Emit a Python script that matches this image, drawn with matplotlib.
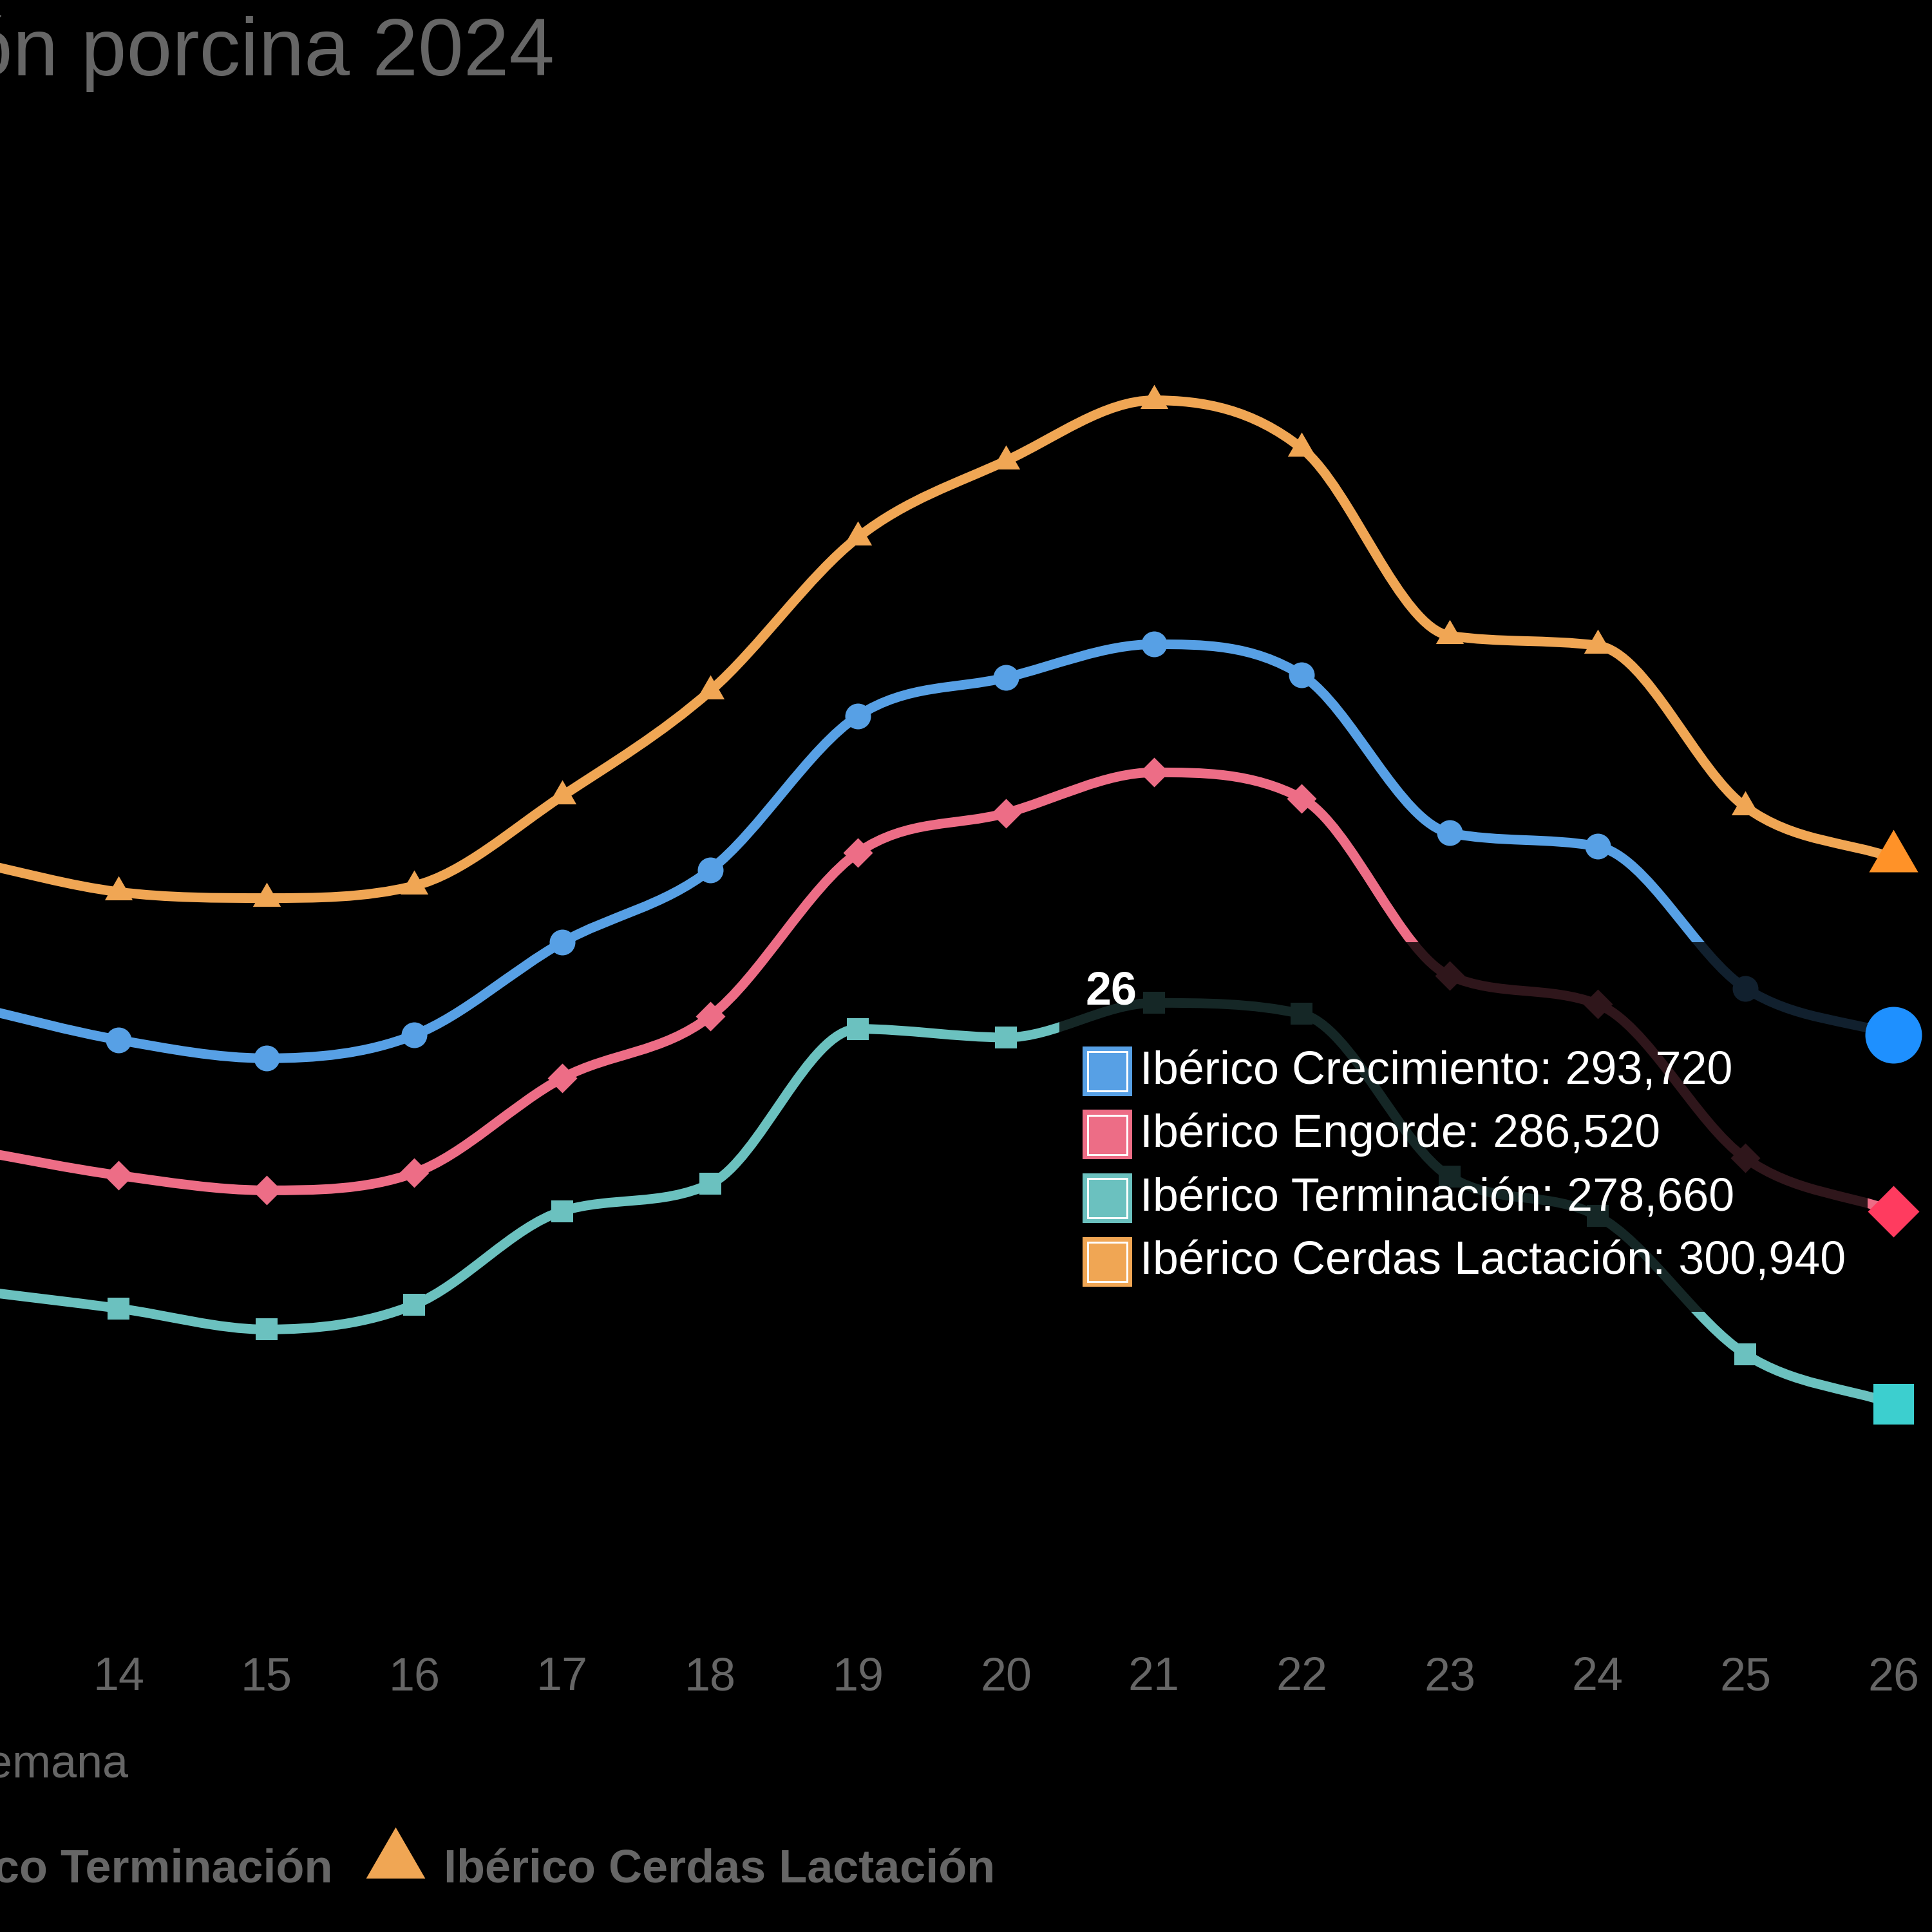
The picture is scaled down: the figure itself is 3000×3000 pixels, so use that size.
import numpy as np
import matplotlib
matplotlib.use('Agg')
import matplotlib.pyplot as plt
from matplotlib.path import Path
from matplotlib.patches import PathPatch, Rectangle
from matplotlib import transforms

# data (weeks 13..26, week 13 is just off the left edge)
weeks = [13, 14, 15, 16, 17, 18, 19, 20, 21, 22, 23, 24, 25, 26]
crecimiento = [294890, 293510, 292760, 293710, 297490, 300450, 306740, 308300, 309660, 308400, 301960, 301410, 295620, 293720]
engorde = [289030, 287980, 287370, 288080, 291950, 294470, 301160, 302770, 304430, 303370, 296130, 294970, 288680, 286520]
terminacion = [283300, 282550, 281690, 282700, 286520, 287630, 293960, 293610, 295020, 294570, 287930, 286320, 280680, 278660]
lactacion = [300800, 299550, 299300, 299800, 303470, 307750, 314030, 317150, 319620, 317660, 310010, 309610, 303020, 300940]

series_names = ['Ibérico Crecimiento', 'Ibérico Engorde', 'Ibérico Terminación', 'Ibérico Cerdas Lactación']
series_vals = [crecimiento, engorde, terminacion, lactacion]
line_cols = ['#57A0E5', '#ED6D86', '#6BC1BF', '#F0A654']
hover_cols = ['#1E90FF', '#FF3B5F', '#3CCFCF', '#FF9228']

hover_week = 26
title = 'Producción porcina 2024'
xlabel = 'Semana'

plt.rcParams['font.family'] = ['Liberation Sans', 'DejaVu Sans']

W = 3000
PX = 72.0 / 300  # pt per pixel
grey = '#666666'
fs = 72 * PX

# marker shapes (chart.js style)
tri = [(0, 1), (-0.866, -0.5), (0.866, -0.5)]
dia = [(0, 1), (1, 0), (0, -1), (-1, 0)]
sq = [(-1, -1), (1, -1), (1, 1), (-1, 1)]
markers = ['o', dia, sq, tri]
small_ms = [40, 46, 34, 50]
big_ms = [88, 80, 63, 88]
legend_ms = [80, 80, 70, 106]

fig = plt.figure(figsize=(10, 10), dpi=300, facecolor='black')
ax = fig.add_axes([0, 0, 1, 1])
ax.set_facecolor('black')
ax.set_axis_off()

# scale so that week 14 sits at x=184px and 26 at 2940px
sx = (2940 - 184) / 12.0
x0 = 14 - 184 / sx
ax.set_xlim(x0, x0 + W / sx)
sy = 0.038037
ytop = 12779 / sy
ax.set_ylim(ytop - W / sy, ytop)


def fx(p):
    return p / W


def fy(p):
    return 1 - p / W


def monotone(xs, ys):
    # monotone cubic (Fritsch-Carlson) as bezier path
    xs = np.asarray(xs, float)
    ys = np.asarray(ys, float)
    n = len(xs)
    dk = np.diff(ys) / np.diff(xs)
    mk = np.zeros(n)
    mk[0] = dk[0]
    mk[-1] = dk[-1]
    for i in range(1, n - 1):
        if dk[i - 1] == 0 or dk[i] == 0 or np.sign(dk[i - 1]) != np.sign(dk[i]):
            mk[i] = 0
        else:
            mk[i] = (dk[i - 1] + dk[i]) / 2
    for i in range(n - 1):
        if dk[i] == 0:
            mk[i] = mk[i + 1] = 0
            continue
        a = mk[i] / dk[i]
        b = mk[i + 1] / dk[i]
        s = a * a + b * b
        if s > 9:
            tau = 3 / np.sqrt(s)
            mk[i] = a * tau * dk[i]
            mk[i + 1] = b * tau * dk[i]
    verts = [(xs[0], ys[0])]
    codes = [Path.MOVETO]
    for i in range(n - 1):
        d = (xs[i + 1] - xs[i]) / 3
        verts += [(xs[i] + d, ys[i] + mk[i] * d), (xs[i + 1] - d, ys[i + 1] - mk[i + 1] * d),
                  (xs[i + 1], ys[i + 1])]
        codes += [Path.CURVE4] * 3
    return Path(verts, codes)


hi = weeks.index(hover_week)
for k in range(4):
    vals = series_vals[k]
    ax.add_patch(PathPatch(monotone(weeks, vals), fill=False, edgecolor=line_cols[k],
                           lw=15 * PX, capstyle='round', joinstyle='round', zorder=2))
    xs = [w for i, w in enumerate(weeks) if i != hi]
    ys = [v for i, v in enumerate(vals) if i != hi]
    ax.plot(xs, ys, ls='none', marker=markers[k], ms=small_ms[k] * PX,
            mfc=line_cols[k], mec=line_cols[k], mew=0, zorder=3)

# tooltip box (semi transparent black)
bx0, bx1, by0, by1 = 1645, 2900, 1463, 2037
ax.add_patch(Rectangle((fx(bx0), fy(by1)), fx(bx1 - bx0), (by1 - by0) / W,
                       transform=fig.transFigure, facecolor=(0, 0, 0, 0.8),
                       edgecolor='none', zorder=5))

# hovered points
for k in range(4):
    ax.plot([weeks[hi]], [series_vals[k][hi]], ls='none', marker=markers[k],
            ms=big_ms[k] * PX, mfc=hover_cols[k], mec=hover_cols[k], mew=0, zorder=6)

# tooltip content
ax.text(fx(1685), fy(1560), str(hover_week), transform=fig.transFigure, color='white',
        fontsize=fs, fontweight='bold', ha='left', va='baseline', zorder=7)
for k in range(4):
    base = 1683 + 98.5 * k
    top = base - 58
    ax.add_patch(Rectangle((fx(1681), fy(top + 77)), 77 / W, 77 / W, transform=fig.transFigure,
                           facecolor=line_cols[k], edgecolor='none', zorder=7))
    ax.add_patch(Rectangle((fx(1689), fy(top + 69)), 61 / W, 61 / W, transform=fig.transFigure,
                           facecolor='none', edgecolor='white', lw=3 * PX, zorder=8))
    ax.text(fx(1770), fy(base), '%s: %s' % (series_names[k], format(series_vals[k][hi], ',')),
            transform=fig.transFigure, color='white', fontsize=fs, ha='left', va='baseline', zorder=7)

# x tick labels
trans = transforms.blended_transform_factory(ax.transData, fig.transFigure)
for w in weeks:
    ax.text(w, fy(2606), str(w), transform=trans, color=grey, fontsize=fs, ha='center', va='center')

# axis title and chart title (canvas is cropped on the left)
fig.text(fx(200), fy(2760), xlabel, color=grey, fontsize=fs, ha='right', va='baseline')
fig.text(fx(861), fy(117), title, color=grey, fontsize=30.5, ha='right', va='baseline')

# legend, laid out right to left from the last item
renderer = fig.canvas.get_renderer()
text_left = 689
for k in range(3, -1, -1):
    t = fig.text(fx(text_left), fy(2923), series_names[k], color=grey, fontsize=fs,
                 fontweight='bold', ha='left', va='baseline')
    mc = text_left - 29 - 46
    ax.plot([fx(mc)], [fy(2890)], transform=fig.transFigure, ls='none', marker=markers[k],
            ms=legend_ms[k] * PX, mfc=line_cols[k], mec=line_cols[k], mew=0, clip_on=False)
    if k > 0:
        prev = fig.text(0, 0, series_names[k - 1], fontsize=fs, fontweight='bold')
        wpx = prev.get_window_extent(renderer=renderer).width
        prev.remove()
        text_left = mc - 46 - 52 - wpx

fig.savefig('out.png', dpi=300, facecolor='black')
